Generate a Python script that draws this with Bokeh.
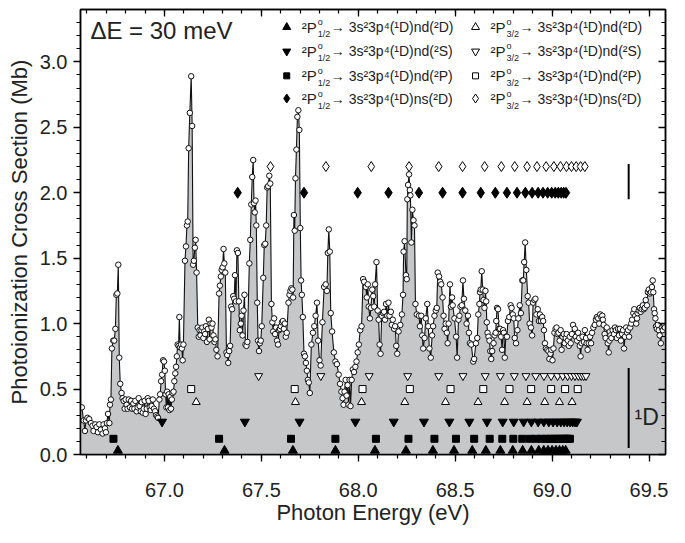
from bokeh.plotting import figure
from bokeh.models import Range1d, LinearAxis, FixedTicker, NumeralTickFormatter
from bokeh.embed import file_html
from bokeh.resources import INLINE
from bokeh.core.properties import value

# ---------------- data ----------------
energy = [
    66.574, 66.583, 66.590, 66.595, 66.603, 66.612, 66.621, 66.629, 66.634, 66.643,
    66.650, 66.657, 66.664, 66.672, 66.681, 66.686, 66.693, 66.698, 66.703, 66.709,
    66.716, 66.719, 66.724, 66.729, 66.736, 66.741, 66.747, 66.752, 66.757, 66.762,
    66.767, 66.772, 66.779, 66.784, 66.790, 66.795, 66.800, 66.805, 66.810, 66.816,
    66.822, 66.828, 66.833, 66.840, 66.845, 66.850, 66.857, 66.862, 66.867, 66.872,
    66.878, 66.883, 66.888, 66.893, 66.898, 66.903, 66.909, 66.914, 66.919, 66.924,
    66.929, 66.934, 66.940, 66.946, 66.952, 66.957, 66.963, 66.967, 66.974, 66.978,
    66.983, 66.988, 66.993, 66.998, 67.002, 67.006, 67.010, 67.014, 67.018, 67.022,
    67.026, 67.030, 67.034, 67.038, 67.042, 67.047, 67.051, 67.056, 67.060, 67.064,
    67.068, 67.073, 67.077, 67.081, 67.086, 67.090, 67.094, 67.098, 67.106, 67.111,
    67.116, 67.120, 67.125, 67.131, 67.138, 67.143, 67.148, 67.152, 67.157, 67.161,
    67.166, 67.172, 67.177, 67.181, 67.186, 67.191, 67.196, 67.201, 67.205, 67.210,
    67.214, 67.219, 67.224, 67.229, 67.233, 67.238, 67.243, 67.248, 67.253, 67.258,
    67.263, 67.268, 67.274, 67.282, 67.286, 67.291, 67.295, 67.300, 67.305, 67.309,
    67.314, 67.320, 67.324, 67.329, 67.334, 67.339, 67.344, 67.349, 67.355, 67.360,
    67.364, 67.369, 67.374, 67.379, 67.384, 67.389, 67.394, 67.398, 67.403, 67.408,
    67.413, 67.418, 67.423, 67.428, 67.438, 67.443, 67.448, 67.453, 67.458, 67.462,
    67.466, 67.470, 67.474, 67.479, 67.483, 67.488, 67.492, 67.497, 67.502, 67.510,
    67.515, 67.520, 67.525, 67.530, 67.535, 67.541, 67.546, 67.552, 67.557, 67.561,
    67.566, 67.571, 67.576, 67.581, 67.586, 67.591, 67.596, 67.601, 67.606, 67.611,
    67.616, 67.621, 67.626, 67.631, 67.640, 67.645, 67.650, 67.655, 67.660, 67.664,
    67.668, 67.672, 67.676, 67.681, 67.686, 67.691, 67.696, 67.701, 67.705, 67.709,
    67.714, 67.720, 67.725, 67.730, 67.735, 67.740, 67.745, 67.750, 67.758, 67.766,
    67.773, 67.780, 67.787, 67.793, 67.800, 67.806, 67.815, 67.824, 67.832, 67.838,
    67.843, 67.848, 67.853, 67.858, 67.865, 67.874, 67.882, 67.890, 67.899, 67.906,
    67.913, 67.919, 67.924, 67.929, 67.935, 67.940, 67.945, 67.950, 67.955, 67.960,
    67.966, 67.972, 67.978, 67.985, 67.991, 67.997, 68.003, 68.010, 68.017, 68.025,
    68.030, 68.039, 68.044, 68.049, 68.054, 68.060, 68.065, 68.072, 68.077, 68.082,
    68.087, 68.094, 68.100, 68.105, 68.110, 68.115, 68.121, 68.128, 68.133, 68.138,
    68.143, 68.150, 68.156, 68.161, 68.168, 68.173, 68.178, 68.185, 68.190, 68.196,
    68.201, 68.208, 68.217, 68.225, 68.231, 68.234, 68.239, 68.246, 68.250, 68.253,
    68.257, 68.262, 68.266, 68.269, 68.274, 68.279, 68.285, 68.290, 68.295, 68.302,
    68.313, 68.318, 68.325, 68.330, 68.335, 68.342, 68.348, 68.356, 68.361, 68.367,
    68.374, 68.381, 68.386, 68.393, 68.400, 68.405, 68.410, 68.417, 68.423, 68.428,
    68.435, 68.440, 68.445, 68.451, 68.457, 68.461, 68.466, 68.473, 68.478, 68.484,
    68.487, 68.496, 68.505, 68.510, 68.517, 68.522, 68.527, 68.534, 68.540, 68.545,
    68.552, 68.559, 68.566, 68.571, 68.576, 68.583, 68.593, 68.598, 68.607, 68.614,
    68.619, 68.625, 68.628, 68.632, 68.637, 68.642, 68.646, 68.651, 68.656, 68.660,
    68.663, 68.667, 68.672, 68.677, 68.681, 68.686, 68.691, 68.698, 68.703, 68.709,
    68.712, 68.716, 68.721, 68.726, 68.732, 68.737, 68.742, 68.747, 68.751, 68.756,
    68.761, 68.767, 68.772, 68.779, 68.786, 68.791, 68.797, 68.802, 68.807, 68.814,
    68.821, 68.826, 68.833, 68.839, 68.846, 68.851, 68.856, 68.861, 68.867, 68.874,
    68.879, 68.884, 68.891, 68.897, 68.902, 68.909, 68.914, 68.919, 68.926, 68.932,
    68.937, 68.942, 68.949, 68.954, 68.958, 68.963, 68.968, 68.975, 68.981, 68.986,
    68.991, 68.996, 69.002, 69.007, 69.012, 69.018, 69.023, 69.028, 69.033, 69.039,
    69.044, 69.049, 69.054, 69.060, 69.065, 69.070, 69.075, 69.081, 69.086, 69.091,
    69.096, 69.102, 69.108, 69.117, 69.122, 69.129, 69.134, 69.140, 69.143, 69.147,
    69.152, 69.157, 69.164, 69.169, 69.175, 69.178, 69.183, 69.189, 69.196, 69.201,
    69.206, 69.213, 69.220, 69.226, 69.231, 69.238, 69.243, 69.248, 69.254, 69.259,
    69.262, 69.266, 69.271, 69.276, 69.282, 69.287, 69.292, 69.296, 69.301, 69.306,
    69.312, 69.319, 69.324, 69.329, 69.334, 69.340, 69.345, 69.350, 69.355, 69.361,
    69.366, 69.371, 69.376, 69.382, 69.387, 69.392, 69.397, 69.403, 69.408, 69.413,
    69.419, 69.424, 69.429, 69.434, 69.438, 69.441, 69.447, 69.452, 69.457, 69.462,
    69.468, 69.473, 69.478, 69.483, 69.489, 69.494, 69.499, 69.504, 69.510, 69.515,
    69.519, 69.522, 69.526, 69.529, 69.533, 69.536, 69.540, 69.545, 69.550, 69.555,
    69.561, 69.566, 69.571, 69.576, 69.582,
]
sigma = [
    0.36, 0.26, 0.18, 0.26, 0.28, 0.27, 0.24, 0.22, 0.18, 0.23,
    0.21, 0.17, 0.23, 0.19, 0.16, 0.23, 0.20, 0.17, 0.24, 0.31,
    0.24, 0.38, 0.42, 0.81, 0.87, 0.87, 0.96, 1.22, 1.23, 1.45,
    0.74, 0.54, 0.47, 0.43, 0.41, 0.35, 0.42, 0.38, 0.35, 0.42,
    0.36, 0.41, 0.35, 0.39, 0.35, 0.41, 0.33, 0.36, 0.43, 0.37,
    0.33, 0.40, 0.32, 0.35, 0.41, 0.31, 0.35, 0.43, 0.41, 0.36,
    0.34, 0.37, 0.42, 0.35, 0.33, 0.30, 0.29, 0.28, 0.42, 0.46,
    0.56, 0.61, 0.72, 0.71, 0.64, 0.46, 0.36, 0.48, 0.36, 0.46,
    0.34, 0.44, 0.35, 0.42, 0.47, 0.48, 0.56, 0.62, 0.67, 0.75,
    0.84, 0.83, 1.05, 0.82, 0.84, 0.81, 0.72, 0.84, 1.48, 1.59,
    1.75, 1.78, 2.34, 2.61, 2.89, 2.51, 1.45, 1.48, 1.58, 1.64,
    1.39, 0.97, 0.90, 0.95, 0.91, 0.95, 0.97, 0.89, 0.94, 0.92,
    0.98, 0.86, 0.96, 1.03, 0.88, 1.00, 0.97, 1.00, 0.91, 0.86,
    0.88, 0.80, 0.75, 1.23, 1.29, 1.36, 1.41, 1.43, 1.57, 1.46,
    1.39, 0.78, 0.76, 0.70, 0.79, 0.83, 1.13, 1.11, 1.21, 1.19,
    1.37, 1.17, 1.56, 1.54, 1.17, 0.95, 1.00, 1.06, 0.91, 1.10,
    1.22, 0.84, 0.83, 0.86, 1.46, 1.64, 1.91, 2.12, 2.25, 1.92,
    1.85, 1.94, 1.75, 1.16, 0.87, 0.79, 0.85, 0.87, 0.98, 1.35,
    1.60, 1.61, 1.75, 2.04, 2.05, 2.13, 2.07, 1.15, 1.01, 0.94,
    1.04, 0.92, 0.97, 0.87, 0.84, 0.95, 0.96, 0.98, 1.01, 1.02,
    0.96, 1.00, 0.90, 0.93, 1.16, 1.22, 1.25, 1.27, 1.26, 1.20,
    1.83, 1.71, 2.11, 2.33, 2.58, 2.63, 2.48, 1.73, 1.33, 1.22,
    1.05, 0.77, 0.75, 0.70, 0.64, 0.57, 0.55, 0.47, 0.84, 0.93,
    0.98, 1.06, 1.16, 0.87, 0.72, 0.68, 1.01, 1.28, 1.30, 1.25,
    1.54, 1.72, 1.55, 1.08, 0.94, 0.78, 0.71, 0.69, 0.61, 0.54,
    0.48, 0.43, 0.38, 0.48, 0.57, 0.45, 0.53, 0.38, 0.57, 0.37,
    0.57, 0.65, 0.63, 0.67, 0.71, 0.78, 0.84, 0.95, 0.98, 1.34,
    1.32, 1.28, 1.20, 1.30, 1.13, 1.04, 1.12, 1.26, 1.21, 1.13,
    1.30, 1.47, 1.10, 1.03, 0.84, 0.77, 1.06, 1.08, 1.09, 1.03,
    1.15, 1.06, 1.16, 1.06, 1.09, 0.99, 1.03, 0.96, 0.98, 0.83,
    0.77, 0.94, 0.99, 1.07, 1.22, 1.55, 1.63, 1.37, 1.34, 1.95,
    2.06, 2.14, 2.02, 1.98, 1.62, 1.87, 1.79, 1.75, 1.15, 1.07,
    1.06, 0.98, 1.06, 0.91, 0.81, 0.89, 1.04, 1.15, 0.98, 0.81,
    0.74, 0.91, 0.98, 1.06, 1.10, 1.12, 1.39, 1.36, 1.32, 1.30,
    1.20, 1.06, 0.96, 1.00, 0.93, 0.85, 1.00, 1.30, 1.13, 1.20,
    1.14, 1.04, 0.90, 0.74, 1.03, 1.06, 1.13, 1.14, 1.33, 1.19,
    1.10, 1.00, 1.06, 0.93, 0.85, 0.84, 0.71, 0.73, 0.85, 0.89,
    1.07, 1.15, 1.24, 1.26, 1.40, 1.26, 1.18, 1.12, 1.25, 1.17,
    1.01, 0.93, 0.90, 0.87, 0.79, 0.73, 0.79, 0.85, 0.91, 0.93,
    1.02, 1.12, 1.11, 0.96, 0.96, 0.90, 0.80, 0.95, 0.93, 0.74,
    0.90, 0.90, 1.02, 1.05, 1.14, 1.12, 1.07, 1.04, 0.89, 0.85,
    0.95, 1.04, 1.14, 1.08, 1.33, 1.33, 1.47, 1.62, 1.41, 1.21,
    1.16, 1.00, 0.97, 0.91, 1.16, 1.18, 1.19, 1.07, 1.11, 1.02,
    1.07, 1.02, 1.05, 1.02, 0.95, 0.85, 0.81, 0.80, 0.79, 0.73,
    0.77, 0.80, 0.72, 0.81, 0.93, 0.96, 0.97, 0.92, 0.93, 0.87,
    0.95, 0.80, 0.90, 0.92, 0.85, 0.89, 0.92, 0.87, 0.83, 0.90,
    0.85, 0.92, 0.99, 0.96, 0.90, 0.87, 0.93, 0.89, 0.83, 0.75,
    0.85, 0.90, 0.86, 0.95, 0.89, 0.85, 0.80, 0.85, 0.90, 0.85,
    0.93, 0.97, 0.99, 1.03, 1.05, 1.04, 1.00, 1.07, 1.05, 1.06,
    1.03, 0.99, 0.92, 0.89, 0.97, 0.85, 0.78, 0.87, 0.91, 0.89,
    0.95, 0.92, 0.97, 0.95, 0.89, 0.96, 0.91, 0.96, 0.87, 0.92,
    0.95, 0.81, 0.90, 0.97, 0.93, 0.95, 0.90, 0.97, 1.00, 1.03,
    1.08, 1.11, 1.06, 1.00, 1.04, 1.08, 1.10, 1.12, 1.09, 1.11,
    1.14, 1.11, 1.12, 1.18, 1.14, 1.24, 1.26, 1.23, 1.24, 1.28,
    1.33, 1.24, 1.11, 1.08, 1.04, 0.98, 0.96, 0.99, 0.95, 0.91,
    0.85, 0.97, 0.95, 0.98, 0.97,
]

# Rydberg series positions (eV); each row of symbols is drawn at a fixed level (Mb)
p12_nd2D = [66.760, 67.310, 67.663, 67.882, 68.086, 68.246, 68.385, 68.494, 68.588, 68.658,
            68.733, 68.797, 68.848, 68.893, 68.931, 68.957, 68.979, 69.000, 69.020, 69.038,
            69.055, 69.070]
p12_nd2S = [66.988, 67.415, 67.697, 67.985, 68.183, 68.339, 68.470, 68.573, 68.664, 68.745,
            68.802, 68.853, 68.893, 68.928, 68.957, 68.983, 69.005, 69.026, 69.045, 69.062,
            69.078, 69.093, 69.106, 69.118, 69.128]
p12_nd2P = [66.737, 67.282, 67.653, 67.882, 68.091, 68.259, 68.393, 68.504, 68.598, 68.678,
            68.743, 68.800, 68.846, 68.886, 68.918, 68.945, 68.968, 68.988, 69.006, 69.022,
            69.037, 69.050, 69.062, 69.073, 69.083, 69.092]
p12_ns2D = [67.378, 67.720, 67.997, 68.156, 68.313, 68.435, 68.538, 68.632, 68.707, 68.767,
            68.819, 68.862, 68.897, 68.928, 68.953, 68.977, 68.998, 69.016, 69.032, 69.047,
            69.060, 69.072]
p32_nd2D = [67.164, 67.676, 68.017, 68.240, 68.450, 68.618, 68.755, 68.871, 68.962, 69.038,
            69.103]
p32_nd2S = [67.486, 67.807, 68.056, 68.255, 68.415, 68.540, 68.655, 68.733, 68.805, 68.865,
            68.915, 68.958, 68.995, 69.028, 69.055, 69.080, 69.100, 69.118, 69.135, 69.150,
            69.163, 69.175]
p32_nd2P = [67.138, 67.672, 68.022, 68.266, 68.476, 68.645, 68.780, 68.892, 68.995, 69.067,
            69.132]
p32_ns2D = [67.547, 67.833, 68.067, 68.262, 68.415, 68.538, 68.652, 68.738, 68.807, 68.871,
            68.922, 68.969, 69.009, 69.043, 69.074, 69.100, 69.124, 69.147, 69.169]

row_level = {"p12_nd2D": 0.03, "p12_nd2P": 0.12, "p12_nd2S": 0.25, "p32_nd2D": 0.40,
             "p32_nd2P": 0.50, "p32_nd2S": 0.60, "p12_ns2D": 2.00, "p32_ns2D": 2.20}

limit_1D = 69.395            # 1D threshold marker
limit_bars = [(1.95, 2.22), (0.05, 0.66)]

x_major = [67.0, 67.5, 68.0, 68.5, 69.0, 69.5]
x_minor = [66.6, 66.7, 66.8, 66.9, 67.0, 67.1, 67.2, 67.3, 67.4, 67.5, 67.6, 67.7, 67.8,
           67.9, 68.0, 68.1, 68.2, 68.3, 68.4, 68.5, 68.6, 68.7, 68.8, 68.9, 69.0, 69.1,
           69.2, 69.3, 69.4, 69.5]
y_major = [0.0, 0.5, 1.0, 1.5, 2.0, 2.5, 3.0]
y_minor = [0.1, 0.2, 0.3, 0.4, 0.6, 0.7, 0.8, 0.9, 1.1, 1.2, 1.3, 1.4, 1.6, 1.7, 1.8, 1.9,
           2.1, 2.2, 2.3, 2.4, 2.6, 2.7, 2.8, 2.9, 3.1, 3.2, 3.3]

FONT = "Liberation Sans"
INK = "#222222"

# ---------------- figure ----------------
p = figure(width=669, height=527, output_backend="svg", toolbar_location=None,
           x_range=Range1d(66.567, 69.585), y_range=Range1d(0, 3.4),
           min_border_left=80, min_border_right=4, min_border_top=9, min_border_bottom=72)
p.grid.visible = False
p.outline_line_color = "black"
p.outline_line_width = 1.5
p.background_fill_color = "white"
p.border_fill_color = "white"

xt = FixedTicker(ticks=x_major, minor_ticks=x_minor)
yt = FixedTicker(ticks=y_major, minor_ticks=y_minor)

for ax in (p.xaxis[0], p.yaxis[0]):
    ax.major_tick_out = 7
    ax.major_tick_in = 0
    ax.minor_tick_out = 4
    ax.minor_tick_in = 0
    ax.major_tick_line_width = 1.3
    ax.minor_tick_line_width = 1.2
    ax.axis_line_width = 1.5
    ax.major_label_text_font = FONT
    ax.major_label_text_font_size = "20px"
    ax.major_label_text_color = INK
    ax.axis_label_text_font = FONT
    ax.axis_label_text_font_size = "22px"
    ax.axis_label_text_font_style = "normal"
    ax.axis_label_text_color = INK
    ax.formatter = NumeralTickFormatter(format="0.0")

p.xaxis.ticker = xt
p.yaxis.ticker = yt
p.xaxis.axis_label = "Photon Energy (eV)"
p.yaxis.axis_label = "Photoionization Cross Section (Mb)"
p.xaxis.major_label_standoff = 21
p.yaxis.major_label_standoff = 6
p.xaxis.axis_label_standoff = 0
p.yaxis.axis_label_standoff = 5

for loc, tk in (("above", xt), ("right", yt)):
    ax = LinearAxis(ticker=tk, major_label_text_font_size="1px", major_label_text_color=None,
                    major_label_standoff=0,
                    major_tick_in=7, major_tick_out=0, minor_tick_in=4, minor_tick_out=0,
                    major_tick_line_width=1.3, minor_tick_line_width=1.2,
                    axis_line_width=1.5)
    p.add_layout(ax, loc)

# ---------------- spectrum ----------------
p.varea(x=energy, y1=[0] * len(energy), y2=sigma, fill_color="#c6c7c9")
p.line(energy, sigma, line_color="#111111", line_width=1.1)
p.scatter(energy, sigma, marker="circle", size=5.5, fill_color="white",
          line_color="#111111", line_width=1.0)

# ---------------- series markers ----------------
series = [
    (p12_nd2D, "p12_nd2D", "triangle", True, 9),
    (p12_nd2S, "p12_nd2S", "inverted_triangle", True, 9),
    (p12_nd2P, "p12_nd2P", "square", True, 7),
    (p12_ns2D, "p12_ns2D", "diamond", True, 11),
    (p32_nd2D, "p32_nd2D", "triangle", False, 8),
    (p32_nd2S, "p32_nd2S", "inverted_triangle", False, 8),
    (p32_nd2P, "p32_nd2P", "square", False, 7),
    (p32_ns2D, "p32_ns2D", "diamond", False, 10),
]
for xs, key, mk, filled, sz in series:
    p.scatter(xs, [row_level[key]] * len(xs), marker=mk, size=sz,
              fill_color="black" if filled else "white", line_color="black", line_width=1.0)

# threshold bars and label
for y0, y1 in limit_bars:
    p.segment(x0=[limit_1D], y0=[y0], x1=[limit_1D], y1=[y1], line_color="black", line_width=2)
p.text(x=[limit_1D + 0.03], y=[0.29], text=["\u00b9D"], text_font=value(FONT),
       text_font_size="23px", text_baseline="middle", text_align="left", text_color=INK)

# resolution label
p.text(x=[66.618], y=[3.24], text=["\u0394E = 30 meV"], text_font=value(FONT),
       text_font_size="24px", text_baseline="middle", text_align="left", text_color=INK)

# ---------------- legend (two columns of four) ----------------
leg_col_x = [67.631, 68.605]
leg_row_y = [3.265, 3.080, 2.893, 2.720]
leg_tail = ["nd(\u00b2D)", "nd(\u00b2S)", "nd(\u00b2P)", "ns(\u00b2D)"]
leg_marker = ["triangle", "inverted_triangle", "square", "diamond"]
leg_size = [8, 8, 6, 9]
leg_sub = ["1/2", "3/2"]

for c, cx in enumerate(leg_col_x):
    for r, ry in enumerate(leg_row_y):
        p.scatter([cx], [ry], marker=leg_marker[r], size=leg_size[r],
                  fill_color="black" if c == 0 else "white", line_color="black", line_width=1.0)
    n = len(leg_row_y)
    xs = [cx] * n
    p.text(x=xs, y=leg_row_y, text=["\u00b2P"] * n, x_offset=15, text_font=value(FONT),
           text_font_size="15px", text_baseline="middle", text_color=INK)
    p.text(x=xs, y=leg_row_y, text=["o"] * n, x_offset=31, y_offset=-5, text_font=value(FONT),
           text_font_size="9px", text_baseline="middle", text_color=INK)
    p.text(x=xs, y=leg_row_y, text=[leg_sub[c]] * n, x_offset=31, y_offset=7,
           text_font=value(FONT), text_font_size="9px", text_baseline="middle", text_color=INK)
    p.text(x=xs, y=leg_row_y,
           text=["\u2192 3s\u00b23p\u2074(\u00b9D)" + t for t in leg_tail],
           x_offset=44, text_font=value(FONT), text_font_size="14px",
           text_baseline="middle", text_color=INK)

open("out.html", "w").write(file_html(p, INLINE))
